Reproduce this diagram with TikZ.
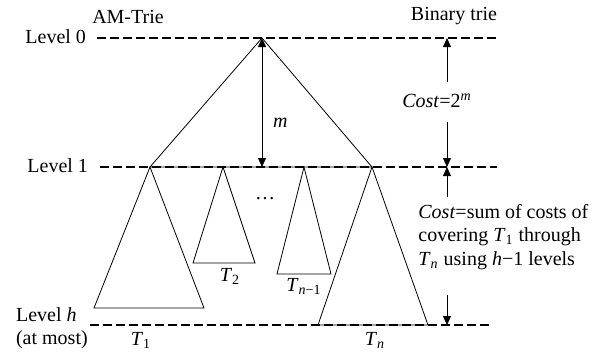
\documentclass[tikz,border=0pt]{standalone}
\usepackage{fontspec}
\setmainfont{Liberation Serif}
\usetikzlibrary{arrows.meta}
\newcommand{\subtree}[1]{\textit{T}\textsubscript{#1}}
\tikzset{
  levelline/.style={line width=1.3pt, dash pattern=on 4.5pt off 2pt},
  tri/.style={line width=0.4pt},
  dimarrow/.style={-{Triangle[length=4.5pt,width=4pt]}, line width=0.4pt},
}
\begin{document}
\begin{tikzpicture}[x=0.5pt,y=-0.5pt]
  \useasboundingbox (0,0) rectangle (595,355);
  % level lines and their labels
  \foreach \n/\y/\xa/\xb in {l0/38/97/497, l1/167/100/497, lh/325/90/490} {
    \coordinate (\n w) at (\xa,\y); \coordinate (\n e) at (\xb,\y);
  }
  \node[anchor=east] (lev0) at (93,37) {Level 0};
  \node[anchor=east] (lev1) at (95,166) {Level 1};
  \node[anchor=west] (levh) at (9,315) {Level \textit{h}};
  \node[anchor=west] (atmost) at (9,340) {(at most)};
  \node (amtrie) at (128,17) {AM-Trie};
  \node (bintrie) at (454,16) {Binary trie};
  % top part of the AM-Trie
  \coordinate (root) at (262,38);
  \coordinate (rootl) at (150,167);
  \coordinate (rootr) at (372,167);
  \draw[tri] (root) -- (rootl) -- (rootr) -- cycle;
  % subtrees below level 1
  \foreach \ax/\bl/\br/\by in {150/94/204/308, 223/193/255/263, 304/277/331/274, 372/318/428/325} {
    \draw[tri] (\ax,167) -- (\bl,\by) -- (\br,\by) -- cycle;
  }
  \node (t1) at (141,340) {\subtree{1}};
  \node (t2) at (230,276) {\subtree{2}};
  \node (tm) at (304,286) {\subtree{\textit{n}−1}};
  \node (tn) at (375,340) {\subtree{\textit{n}}};
  \node (dots) at (265,199) {\dots};
  \foreach \n in {l0,l1,lh} { \draw[levelline] (\n w) -- (\n e); }
  % stride m
  \coordinate (mbot) at (262,167);
  \draw[dimarrow, {Triangle[length=4.5pt,width=4pt]}-{Triangle[length=4.5pt,width=4pt]}] (root) -- (mbot) node[midway, right, xshift=2pt, yshift=-10pt] (mlabel) {\textit{m}};
  % costs
  \coordinate (c0) at (447,38); \coordinate (c1) at (447,167); \coordinate (ch) at (447,325);
  \coordinate (c0a) at (447,82); \coordinate (c0b) at (447,122);
  \coordinate (c1a) at (447,197); \coordinate (c1b) at (447,295);
  \node (cost1) at (437,101) {\textit{Cost}=2\textsuperscript{\textit{m}}};
  \draw[dimarrow] (c0a) -- (c0);
  \draw[dimarrow] (c0b) -- (c1);
  \draw[dimarrow] (c1a) -- (c1);
  \draw[dimarrow] (c1b) -- (ch);
  \node[anchor=west, align=left, font=\fontsize{10}{11.75}\selectfont, inner sep=0pt] (cost2) at (418,237)
    {\textit{Cost}=sum of costs of\\covering \subtree{1} through\\\subtree{\textit{n}} using \textit{h}−1 levels};
\end{tikzpicture}
\end{document}
